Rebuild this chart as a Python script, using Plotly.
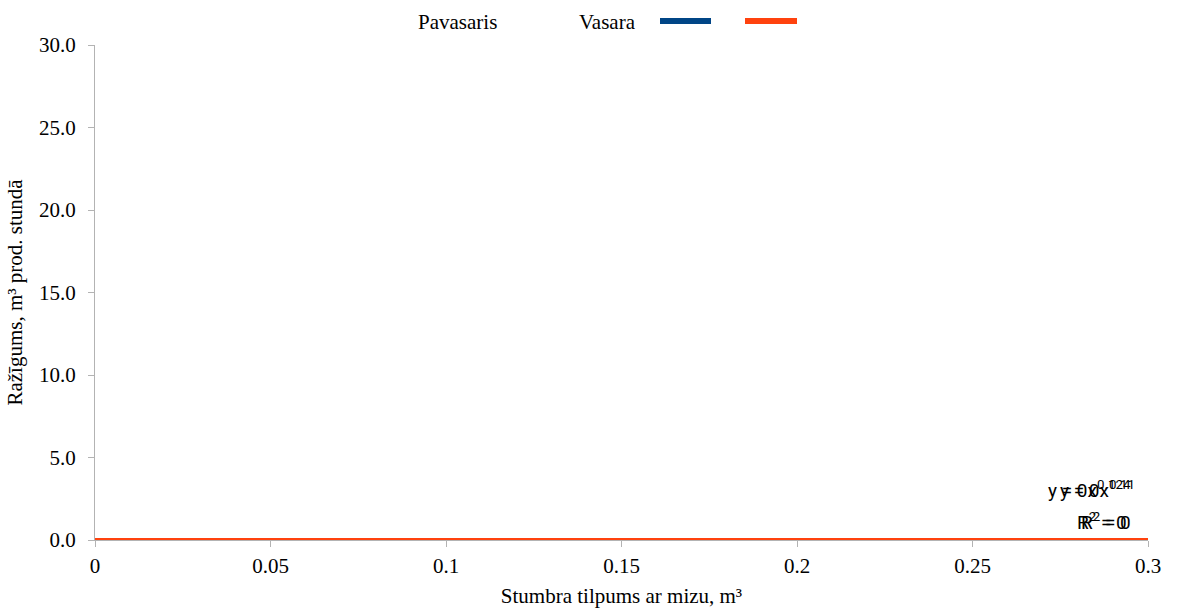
import plotly.graph_objects as go

# Observed series (no measurements plotted)
pavasaris_x = []
pavasaris_y = []
vasara_x = []
vasara_y = []

# Power trendlines y = a * x^b
trend_x = [0.0, 0.3]
pav_a, pav_b = 0.0, 0.124
vas_a, vas_b = 0.0, 0.11
pav_trend_y = [pav_a * (x ** pav_b) for x in trend_x]
vas_trend_y = [vas_a * (x ** vas_b) for x in trend_x]
pav_r2 = 0
vas_r2 = 0

x_ticks = [0, 0.05, 0.1, 0.15, 0.2, 0.25, 0.3]
x_tick_text = ["0", "0.05", "0.1", "0.15", "0.2", "0.25", "0.3"]
y_ticks = [0, 5, 10, 15, 20, 25, 30]
y_tick_text = ["0.0", "5.0", "10.0", "15.0", "20.0", "25.0", "30.0"]

BLUE = "#004586"
ORANGE = "#ff420e"
SERIF = "Liberation Serif, Times New Roman, serif"
SANS = "Liberation Sans Narrow, Roboto, Liberation Sans, Arial, sans-serif"
FS = 21

W, H = 1177, 608
L, R, T, B = 95, 29, 45, 68
pw, ph = W - L - R, H - T - B

fig = go.Figure()

fig.add_trace(go.Scatter(x=pavasaris_x, y=pavasaris_y, mode="markers", name="Pavasaris",
                         marker=dict(color=BLUE, size=6), showlegend=False))
fig.add_trace(go.Scatter(x=vasara_x, y=vasara_y, mode="markers", name="Vasara",
                         marker=dict(color=ORANGE, size=6), showlegend=False))
fig.add_trace(go.Scatter(x=trend_x, y=pav_trend_y, mode="lines", name="Pavasaris trend",
                         line=dict(color=BLUE, width=4), showlegend=False, cliponaxis=False))
fig.add_trace(go.Scatter(x=trend_x, y=vas_trend_y, mode="lines", name="Vasara trend",
                         line=dict(color=ORANGE, width=4), showlegend=False, cliponaxis=False))

# Trendline equations (overlapping, placed at the end of each line)
eq_font = dict(family=SANS, size=19, color="#000000")
for dx, b, r2 in [(0, pav_b, pav_r2), (4, vas_b, vas_r2)]:
    fig.add_annotation(x=0.3, y=0, xref="x", yref="y", xanchor="right", yanchor="middle",
                       xshift=-15 + dx, yshift=51, showarrow=False, font=eq_font,
                       text=f"y = 0x<sup>{b:g}</sup>")
    fig.add_annotation(x=0.3, y=0, xref="x", yref="y", xanchor="right", yanchor="middle",
                       xshift=-19 + dx, yshift=19, showarrow=False, font=eq_font,
                       text=f"R<sup>2</sup> = {r2}")


def px_x(x):
    return (x - L) / pw


def px_y(y):
    return (H - B - y) / ph


# Legend row
leg_font = dict(family=SERIF, size=FS, color="#000000")
for label, cx in [("Pavasaris", 457), ("Vasara", 607)]:
    fig.add_annotation(x=px_x(cx), y=px_y(22), xref="paper", yref="paper", text=label,
                       showarrow=False, xanchor="center", yanchor="middle", font=leg_font)

for x0, x1, color in [(660, 711, BLUE), (745, 797, ORANGE)]:
    fig.add_shape(type="line", xref="paper", yref="paper",
                  x0=px_x(x0), x1=px_x(x1), y0=px_y(21), y1=px_y(21),
                  line=dict(color=color, width=6))

fig.update_layout(
    width=W, height=H,
    margin=dict(l=L, r=R, t=T, b=B, autoexpand=False),
    paper_bgcolor="white", plot_bgcolor="white",
    font=dict(family=SERIF, size=FS, color="#000000"),
    showlegend=False,
    xaxis=dict(range=[0, 0.3], tickvals=x_ticks, ticktext=x_tick_text, automargin=False,
               showgrid=False, zeroline=False, showline=True, linecolor="#b3b3b3",
               ticks="outside", ticklen=6, tickcolor="#b3b3b3", ticklabelstandoff=1,
               tickfont=dict(family=SERIF, size=FS),
               title=dict(text="Stumbra tilpums ar mizu, m³", standoff=17,
                          font=dict(family=SERIF, size=FS))),
    yaxis=dict(range=[0, 30], tickvals=y_ticks, ticktext=y_tick_text, automargin=False,
               showgrid=False, zeroline=False, showline=True, linecolor="#b3b3b3",
               ticks="outside", ticklen=6, tickcolor="#b3b3b3", ticklabelstandoff=8,
               tickfont=dict(family=SERIF, size=FS),
               title=dict(text="Ražīgums, m³ prod. stundā", standoff=10,
                          font=dict(family=SERIF, size=FS))),
)

fig.write_html("out.html")
